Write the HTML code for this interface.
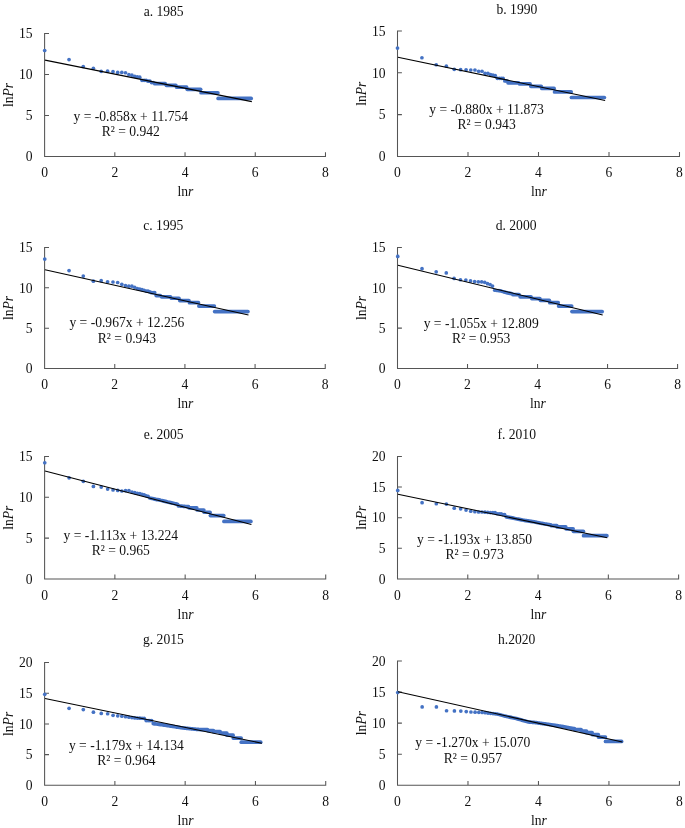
<!DOCTYPE html>
<html><head><meta charset="utf-8"><title>Rank-size plots</title>
<style>
html,body{margin:0;padding:0;background:#fff}
svg{display:block}
svg text{font-family:"Liberation Serif",serif;font-size:13.6px}
</style></head><body>
<svg width="685" height="828" viewBox="0 0 685 828">
<rect width="685" height="828" fill="#fff"/>
<g id="chart-a">
<path d="M49 33.4H44.6V156.55H325.48v-4.4M44.6 115.5h4.4M44.6 74.45h4.4M114.82 156.55v-4.4M185.04 156.55v-4.4M255.26 156.55v-4.4" fill="none" stroke="#555" stroke-width="1.05"/>
<g fill="#4472C4"><circle cx="44.7" cy="50.52" r="1.85"/><circle cx="69.03" cy="59.54" r="1.85"/><circle cx="83.26" cy="66.51" r="1.85"/><circle cx="93.36" cy="68.23" r="1.85"/><circle cx="101.19" cy="71.35" r="1.85"/><circle cx="107.59" cy="71.18" r="1.85"/><circle cx="113" cy="71.68" r="1.85"/><circle cx="117.69" cy="72.41" r="1.85"/><circle cx="121.82" cy="72.41" r="1.85"/><circle cx="125.52" cy="72.74" r="1.85"/><circle cx="128.87" cy="74.71" r="1.85"/><circle cx="131.92" cy="75.2" r="1.85"/><circle cx="134.73" cy="76.43" r="1.85"/><circle cx="137.33" cy="76.76" r="1.85"/><circle cx="139.75" cy="77.17" r="1.85"/><circle cx="142.02" cy="80.29" r="1.85"/><circle cx="144.15" cy="80.29" r="1.85"/><circle cx="146.15" cy="80.29" r="1.85"/><circle cx="148.05" cy="81.19" r="1.85"/><circle cx="149.85" cy="81.19" r="1.85"/><circle cx="151.56" cy="82.58" r="1.85"/><circle cx="153.2" cy="82.58" r="1.85"/></g>
<g stroke="#4472C4" stroke-width="3.7" stroke-linecap="round" stroke-linejoin="round" fill="none"><path d="M154.76 83.65L165.23 83.65"/><path d="M166.35 85.37L175.89 85.37"/><path d="M176.72 87.17L186.61 87.17"/><path d="M187.22 89.31L200.64 89.31"/><path d="M201.05 92.75L217.9 92.75"/><path d="M218.15 98.41L251.2 98.41"/></g>
<line x1="45.02" y1="60.13" x2="251.82" y2="101.62" stroke="#000" stroke-width="1.05"/>
<g fill="#111" style="filter:grayscale(1)"><text x="32.6" y="161" text-anchor="end">0</text><text x="32.6" y="120" text-anchor="end">5</text><text x="32.6" y="79" text-anchor="end">10</text><text x="32.6" y="38" text-anchor="end">15</text><text x="44.6" y="177" text-anchor="middle">0</text><text x="114.82" y="177" text-anchor="middle">2</text><text x="185.04" y="177" text-anchor="middle">4</text><text x="255.26" y="177" text-anchor="middle">6</text><text x="325.48" y="177" text-anchor="middle">8</text><text x="185.44" y="196" text-anchor="middle">ln<tspan font-style="italic">r</tspan></text><text transform="translate(13.1 94.98) rotate(-90)" text-anchor="middle">ln<tspan font-style="italic">Pr</tspan></text><text x="163.65" y="16" text-anchor="middle">a. 1985</text><text x="130.8" y="121" text-anchor="middle">y = -0.858x + 11.754</text><text x="130.8" y="136" text-anchor="middle">R² = 0.942</text></g>
</g>
<g id="chart-b">
<path d="M401.9 31H397.5V156.45H679.5v-4.4M397.5 114.63h4.4M397.5 72.82h4.4M468 156.45v-4.4M538.5 156.45v-4.4M609 156.45v-4.4" fill="none" stroke="#555" stroke-width="1.05"/>
<g fill="#4472C4"><circle cx="397.5" cy="48.04" r="1.85"/><circle cx="421.93" cy="57.73" r="1.85"/><circle cx="436.23" cy="64.75" r="1.85"/><circle cx="446.37" cy="66.17" r="1.85"/><circle cx="454.23" cy="69.34" r="1.85"/><circle cx="460.66" cy="69.68" r="1.85"/><circle cx="466.09" cy="69.84" r="1.85"/><circle cx="470.8" cy="70.01" r="1.85"/><circle cx="474.95" cy="70.01" r="1.85"/><circle cx="478.67" cy="71.26" r="1.85"/><circle cx="482.03" cy="71.26" r="1.85"/><circle cx="485.09" cy="73.35" r="1.85"/><circle cx="487.91" cy="73.35" r="1.85"/><circle cx="490.53" cy="74.6" r="1.85"/><circle cx="492.96" cy="75.11" r="1.85"/><circle cx="495.23" cy="75.61" r="1.85"/><circle cx="497.37" cy="78.36" r="1.85"/><circle cx="499.39" cy="78.36" r="1.85"/><circle cx="501.29" cy="78.36" r="1.85"/><circle cx="503.1" cy="78.36" r="1.85"/><circle cx="504.82" cy="80.95" r="1.85"/><circle cx="506.46" cy="80.95" r="1.85"/></g>
<g stroke="#4472C4" stroke-width="3.7" stroke-linecap="round" stroke-linejoin="round" fill="none"><path d="M508.03 82.79L518.55 82.79"/><path d="M519.67 83.96L530.08 83.96"/><path d="M530.89 86.3L541.23 86.3"/><path d="M541.83 88.39L554.1 88.39"/><path d="M554.52 91.9L571.19 91.9"/><path d="M571.44 97.49L604.39 97.49"/></g>
<line x1="397.92" y1="57.24" x2="605.12" y2="100.5" stroke="#000" stroke-width="1.05"/>
<g fill="#111" style="filter:grayscale(1)"><text x="385.5" y="161" text-anchor="end">0</text><text x="385.5" y="119" text-anchor="end">5</text><text x="385.5" y="78" text-anchor="end">10</text><text x="385.5" y="36" text-anchor="end">15</text><text x="397.5" y="177" text-anchor="middle">0</text><text x="468" y="177" text-anchor="middle">2</text><text x="538.5" y="177" text-anchor="middle">4</text><text x="609" y="177" text-anchor="middle">6</text><text x="679.5" y="177" text-anchor="middle">8</text><text x="538.9" y="196" text-anchor="middle">ln<tspan font-style="italic">r</tspan></text><text transform="translate(365.9 93.72) rotate(-90)" text-anchor="middle">ln<tspan font-style="italic">Pr</tspan></text><text x="516.9" y="14" text-anchor="middle">b. 1990</text><text x="486.6" y="114" text-anchor="middle">y = -0.880x + 11.873</text><text x="486.6" y="129" text-anchor="middle">R² = 0.943</text></g>
</g>
<g id="chart-c">
<path d="M49 247.45H44.6V368.5H325.24v-4.4M44.6 328.15h4.4M44.6 287.8h4.4M114.76 368.5v-4.4M184.92 368.5v-4.4M255.08 368.5v-4.4" fill="none" stroke="#555" stroke-width="1.05"/>
<g fill="#4472C4"><circle cx="44.75" cy="259.05" r="1.85"/><circle cx="69.06" cy="270.61" r="1.85"/><circle cx="83.28" cy="276.03" r="1.85"/><circle cx="93.37" cy="281.13" r="1.85"/><circle cx="101.19" cy="280.72" r="1.85"/><circle cx="107.59" cy="281.85" r="1.85"/><circle cx="112.99" cy="282.02" r="1.85"/><circle cx="117.68" cy="282.5" r="1.85"/><circle cx="121.81" cy="284.28" r="1.85"/><circle cx="125.5" cy="285.49" r="1.85"/><circle cx="128.84" cy="286.22" r="1.85"/><circle cx="131.9" cy="286.22" r="1.85"/><circle cx="134.7" cy="287.27" r="1.85"/><circle cx="137.3" cy="288.48" r="1.85"/><circle cx="139.72" cy="289.21" r="1.85"/><circle cx="141.98" cy="289.7" r="1.85"/><circle cx="144.11" cy="290.26" r="1.85"/><circle cx="146.12" cy="291.07" r="1.85"/><circle cx="148.01" cy="291.07" r="1.85"/><circle cx="149.81" cy="291.96" r="1.85"/><circle cx="151.52" cy="292.69" r="1.85"/><circle cx="153.15" cy="292.69" r="1.85"/><circle cx="154.71" cy="292.69" r="1.85"/></g>
<g stroke="#4472C4" stroke-width="3.7" stroke-linecap="round" stroke-linejoin="round" fill="none"><path d="M156.2 295.6L160.33 295.6"/><path d="M161.61 296.81L170.42 296.81"/><path d="M171.38 298.27L179.02 298.27"/><path d="M179.77 300.53L188.92 300.53"/><path d="M189.49 302.64L198.43 302.64"/><path d="M198.86 306.11L214.36 306.11"/><path d="M214.64 311.53L247.91 311.53"/></g>
<line x1="45.02" y1="269.69" x2="248.48" y2="314.95" stroke="#000" stroke-width="1.05"/>
<g fill="#111" style="filter:grayscale(1)"><text x="32.6" y="373" text-anchor="end">0</text><text x="32.6" y="333" text-anchor="end">5</text><text x="32.6" y="293" text-anchor="end">10</text><text x="32.6" y="252" text-anchor="end">15</text><text x="44.6" y="389" text-anchor="middle">0</text><text x="114.76" y="389" text-anchor="middle">2</text><text x="184.92" y="389" text-anchor="middle">4</text><text x="255.08" y="389" text-anchor="middle">6</text><text x="325.24" y="389" text-anchor="middle">8</text><text x="185.32" y="408" text-anchor="middle">ln<tspan font-style="italic">r</tspan></text><text transform="translate(13.1 307.98) rotate(-90)" text-anchor="middle">ln<tspan font-style="italic">Pr</tspan></text><text x="163.3" y="230" text-anchor="middle">c. 1995</text><text x="126.9" y="327" text-anchor="middle">y = -0.967x + 12.256</text><text x="126.9" y="343" text-anchor="middle">R² = 0.943</text></g>
</g>
<g id="chart-d">
<path d="M401.9 247.4H397.5V368.45H677.58v-4.4M397.5 328.1h4.4M397.5 287.75h4.4M467.52 368.45v-4.4M537.54 368.45v-4.4M607.56 368.45v-4.4" fill="none" stroke="#555" stroke-width="1.05"/>
<g fill="#4472C4"><circle cx="397.75" cy="256.38" r="1.85"/><circle cx="422.01" cy="268.67" r="1.85"/><circle cx="436.2" cy="271.83" r="1.85"/><circle cx="446.27" cy="272.88" r="1.85"/><circle cx="454.08" cy="278.46" r="1.85"/><circle cx="460.46" cy="279.75" r="1.85"/><circle cx="465.86" cy="280.07" r="1.85"/><circle cx="470.53" cy="280.96" r="1.85"/><circle cx="474.65" cy="281.61" r="1.85"/><circle cx="478.34" cy="281.85" r="1.85"/><circle cx="481.68" cy="281.85" r="1.85"/><circle cx="484.72" cy="282.34" r="1.85"/><circle cx="487.52" cy="283.71" r="1.85"/><circle cx="490.12" cy="284.6" r="1.85"/><circle cx="492.53" cy="286.06" r="1.85"/><circle cx="494.79" cy="290.26" r="1.85"/><circle cx="496.91" cy="290.51" r="1.85"/><circle cx="498.91" cy="290.67" r="1.85"/><circle cx="500.81" cy="290.91" r="1.85"/><circle cx="502.6" cy="291.48" r="1.85"/><circle cx="504.31" cy="292.12" r="1.85"/></g>
<g stroke="#4472C4" stroke-width="3.7" stroke-linecap="round" stroke-linejoin="round" fill="none"><path d="M505.94 292.45L507.49 292.85L508.98 293.09L510.41 293.42L511.78 293.74"/><path d="M513.1 294.71L519.05 294.71"/><path d="M520.13 296.81L530.98 296.81"/><path d="M531.75 298.59L539.87 298.59"/><path d="M540.46 300.37L549.33 300.37"/><path d="M549.78 302.64L558.22 302.64"/><path d="M558.58 306.11L571.69 306.11"/><path d="M571.94 311.53L602.17 311.53"/></g>
<line x1="397.92" y1="265.18" x2="602.66" y2="314.97" stroke="#000" stroke-width="1.05"/>
<g fill="#111" style="filter:grayscale(1)"><text x="385.5" y="373" text-anchor="end">0</text><text x="385.5" y="333" text-anchor="end">5</text><text x="385.5" y="293" text-anchor="end">10</text><text x="385.5" y="252" text-anchor="end">15</text><text x="397.5" y="389" text-anchor="middle">0</text><text x="467.52" y="389" text-anchor="middle">2</text><text x="537.54" y="389" text-anchor="middle">4</text><text x="607.56" y="389" text-anchor="middle">6</text><text x="677.58" y="389" text-anchor="middle">8</text><text x="537.94" y="408" text-anchor="middle">ln<tspan font-style="italic">r</tspan></text><text transform="translate(365.9 307.93) rotate(-90)" text-anchor="middle">ln<tspan font-style="italic">Pr</tspan></text><text x="516.1" y="230" text-anchor="middle">d. 2000</text><text x="481.2" y="328" text-anchor="middle">y = -1.055x + 12.809</text><text x="481.2" y="343" text-anchor="middle">R² = 0.953</text></g>
</g>
<g id="chart-e">
<path d="M49 456.5H44.6V578.95H325.72v-4.4M44.6 538.13h4.4M44.6 497.32h4.4M114.88 578.95v-4.4M185.16 578.95v-4.4M255.44 578.95v-4.4" fill="none" stroke="#555" stroke-width="1.05"/>
<g fill="#4472C4"><circle cx="44.75" cy="462.77" r="1.85"/><circle cx="69.08" cy="477.83" r="1.85"/><circle cx="83.31" cy="481.33" r="1.85"/><circle cx="93.41" cy="486.46" r="1.85"/><circle cx="101.24" cy="487.11" r="1.85"/><circle cx="107.64" cy="489.06" r="1.85"/><circle cx="113.05" cy="489.96" r="1.85"/><circle cx="117.74" cy="490.44" r="1.85"/><circle cx="121.87" cy="491.01" r="1.85"/><circle cx="125.57" cy="490.61" r="1.85"/><circle cx="128.92" cy="490.61" r="1.85"/><circle cx="131.97" cy="492.07" r="1.85"/><circle cx="134.78" cy="492.56" r="1.85"/><circle cx="137.38" cy="493.29" r="1.85"/><circle cx="139.8" cy="493.62" r="1.85"/><circle cx="142.07" cy="494.35" r="1.85"/><circle cx="144.2" cy="494.84" r="1.85"/><circle cx="146.2" cy="495.73" r="1.85"/><circle cx="148.1" cy="496.39" r="1.85"/><circle cx="149.9" cy="498.01" r="1.85"/><circle cx="151.61" cy="498.42" r="1.85"/></g>
<g stroke="#4472C4" stroke-width="3.7" stroke-linecap="round" stroke-linejoin="round" fill="none"><path d="M153.25 498.75L154.81 499.15L156.3 499.56L157.73 499.64L159.11 499.8L160.43 500.26L161.71 500.56L162.94 500.85L164.13 501.13L165.28 501.4L166.4 501.67L167.48 501.93L168.53 502.18L169.54 502.42L170.53 502.65L171.49 502.88L172.43 503.11L173.34 503.32L174.23 503.54L175.1 503.74L175.94 503.92L176.77 504.1L177.58 504.28"/><path d="M178.36 505.88L179.14 505.94L179.89 506.01L180.63 506.07L181.35 506.13L182.06 506.19L182.76 506.25L183.44 506.31L184.11 506.37L184.76 506.42L185.41 506.48L186.04 506.53L186.66 506.58L187.27 506.64L187.87 506.69L188.46 506.72"/><path d="M189.04 507.94L196.76 507.94"/><path d="M197.22 509.98L203.84 509.98"/><path d="M204.22 512.26L210.05 512.26"/><path d="M210.37 515.6L223.76 515.6"/><path d="M223.97 521.46L250.86 521.46"/></g>
<line x1="45.02" y1="471.11" x2="251.4" y2="524.47" stroke="#000" stroke-width="1.05"/>
<g fill="#111" style="filter:grayscale(1)"><text x="32.6" y="584" text-anchor="end">0</text><text x="32.6" y="543" text-anchor="end">5</text><text x="32.6" y="502" text-anchor="end">10</text><text x="32.6" y="461" text-anchor="end">15</text><text x="44.6" y="600" text-anchor="middle">0</text><text x="114.88" y="600" text-anchor="middle">2</text><text x="185.16" y="600" text-anchor="middle">4</text><text x="255.44" y="600" text-anchor="middle">6</text><text x="325.72" y="600" text-anchor="middle">8</text><text x="185.56" y="619" text-anchor="middle">ln<tspan font-style="italic">r</tspan></text><text transform="translate(13.1 517.73) rotate(-90)" text-anchor="middle">ln<tspan font-style="italic">Pr</tspan></text><text x="163.65" y="439" text-anchor="middle">e. 2005</text><text x="120.8" y="540" text-anchor="middle">y = -1.113x + 13.224</text><text x="120.8" y="555" text-anchor="middle">R² = 0.965</text></g>
</g>
<g id="chart-f">
<path d="M401.9 456.45H397.5V578.95H678.62v-4.4M397.5 548.33h4.4M397.5 517.7h4.4M397.5 487.07h4.4M467.78 578.95v-4.4M538.06 578.95v-4.4M608.34 578.95v-4.4" fill="none" stroke="#555" stroke-width="1.05"/>
<g fill="#4472C4"><circle cx="397.75" cy="490.44" r="1.85"/><circle cx="422.08" cy="502.71" r="1.85"/><circle cx="436.31" cy="503.75" r="1.85"/><circle cx="446.41" cy="504.12" r="1.85"/><circle cx="454.24" cy="508.15" r="1.85"/><circle cx="460.64" cy="508.82" r="1.85"/><circle cx="466.05" cy="510.04" r="1.85"/><circle cx="470.74" cy="511.26" r="1.85"/><circle cx="474.87" cy="511.63" r="1.85"/><circle cx="478.57" cy="511.99" r="1.85"/><circle cx="481.92" cy="511.99" r="1.85"/><circle cx="484.97" cy="512.18" r="1.85"/><circle cx="487.78" cy="512.36" r="1.85"/><circle cx="490.38" cy="512.54" r="1.85"/><circle cx="492.8" cy="512.54" r="1.85"/><circle cx="495.07" cy="512.54" r="1.85"/><circle cx="497.2" cy="513.76" r="1.85"/><circle cx="499.2" cy="513.76" r="1.85"/><circle cx="501.1" cy="513.76" r="1.85"/><circle cx="502.9" cy="514.62" r="1.85"/><circle cx="504.61" cy="514.62" r="1.85"/></g>
<g stroke="#4472C4" stroke-width="3.7" stroke-linecap="round" stroke-linejoin="round" fill="none"><path d="M506.25 516.83L507.81 517.13L509.3 517.41L510.73 517.68L512.11 517.94L513.43 518.19L514.71 518.45L515.94 518.7L517.13 518.95L518.28 519.18L519.4 519.41L520.48 519.63L521.53 519.84L522.54 520.05L523.53 520.25L524.49 520.41L525.43 520.55L526.34 520.68L527.23 520.82L528.1 520.95L528.94 521.07L529.77 521.2L530.58 521.32L531.36 521.44L532.14 521.55L532.89 521.67L533.63 521.78L534.35 521.91L535.06 522.05L535.76 522.18L536.44 522.32L537.11 522.45L537.76 522.58L538.41 522.71L539.04 522.83L539.66 522.96L540.27 523.08L540.87 523.2L541.46 523.31L542.04 523.43L542.61 523.54L543.17 523.65L543.73 523.76L544.27 523.86L544.81 523.95L545.33 524.03L545.85 524.12L546.37 524.2L546.87 524.28L547.37 524.36L547.86 524.44L548.35 524.51L548.82 524.59L549.29 524.67L549.76 524.74L550.22 524.81L550.67 524.88L551.12 525.67L556.84 525.67"/><path d="M557.22 526.89L565.79 526.89"/><path d="M566.08 528.78L573.15 528.78"/><path d="M573.39 531.29L583.37 531.29"/><path d="M583.54 535.68L606.89 535.68"/></g>
<line x1="397.92" y1="494.21" x2="607.29" y2="537.74" stroke="#000" stroke-width="1.05"/>
<g fill="#111" style="filter:grayscale(1)"><text x="385.5" y="584" text-anchor="end">0</text><text x="385.5" y="553" text-anchor="end">5</text><text x="385.5" y="522" text-anchor="end">10</text><text x="385.5" y="492" text-anchor="end">15</text><text x="385.5" y="461" text-anchor="end">20</text><text x="397.5" y="600" text-anchor="middle">0</text><text x="467.78" y="600" text-anchor="middle">2</text><text x="538.06" y="600" text-anchor="middle">4</text><text x="608.34" y="600" text-anchor="middle">6</text><text x="678.62" y="600" text-anchor="middle">8</text><text x="538.46" y="619" text-anchor="middle">ln<tspan font-style="italic">r</tspan></text><text transform="translate(365.9 517.7) rotate(-90)" text-anchor="middle">ln<tspan font-style="italic">Pr</tspan></text><text x="516.7" y="439" text-anchor="middle">f. 2010</text><text x="474.6" y="544" text-anchor="middle">y = -1.193x + 13.850</text><text x="474.6" y="559" text-anchor="middle">R² = 0.973</text></g>
</g>
<g id="chart-g">
<path d="M49 662.5H44.6V785.3H325.72v-4.4M44.6 754.6h4.4M44.6 723.9h4.4M44.6 693.2h4.4M114.88 785.3v-4.4M185.16 785.3v-4.4M255.44 785.3v-4.4" fill="none" stroke="#555" stroke-width="1.05"/>
<g fill="#4472C4"><circle cx="44.75" cy="694.29" r="1.85"/><circle cx="69.08" cy="708.34" r="1.85"/><circle cx="83.31" cy="709.57" r="1.85"/><circle cx="93.41" cy="712.15" r="1.85"/><circle cx="101.24" cy="713.38" r="1.85"/><circle cx="107.64" cy="713.74" r="1.85"/><circle cx="113.05" cy="715.34" r="1.85"/><circle cx="117.74" cy="715.83" r="1.85"/><circle cx="121.87" cy="716.2" r="1.85"/><circle cx="125.57" cy="716.75" r="1.85"/><circle cx="128.92" cy="717.24" r="1.85"/><circle cx="131.97" cy="717.61" r="1.85"/><circle cx="134.78" cy="717.92" r="1.85"/><circle cx="137.38" cy="718.1" r="1.85"/><circle cx="139.8" cy="718.16" r="1.85"/><circle cx="142.07" cy="718.23" r="1.85"/><circle cx="144.2" cy="718.29" r="1.85"/><circle cx="146.2" cy="720.56" r="1.85"/><circle cx="148.1" cy="720.56" r="1.85"/><circle cx="149.9" cy="720.56" r="1.85"/><circle cx="151.61" cy="720.56" r="1.85"/></g>
<g stroke="#4472C4" stroke-width="3.7" stroke-linecap="round" stroke-linejoin="round" fill="none"><path d="M153.25 723.59L154.81 723.8L156.3 724L157.73 724.2L159.11 724.39L160.43 724.57L161.71 724.74L162.94 724.91L164.13 725.09L165.28 725.27L166.4 725.44L167.48 725.61L168.53 725.77L169.54 725.93L170.53 726.08L171.49 726.23L172.43 726.37L173.34 726.51L174.23 726.65L175.1 726.79L175.94 726.92L176.77 727.05L177.58 727.17L178.36 727.3L179.14 727.42L179.89 727.54L180.63 727.66L181.35 727.75L182.06 727.82L182.76 727.9L183.44 727.97L184.11 728.04L184.76 728.11L185.41 728.17L186.04 728.24L186.66 728.31L187.27 728.37L187.87 728.43L188.46 728.49L189.04 728.55L189.61 728.61L190.17 728.67L190.73 728.73L191.27 728.79L191.81 728.84L192.33 728.9L192.85 728.95L193.37 729.01L193.87 729.06L194.37 729.11L194.86 729.16L195.35 729.21L195.82 729.26L196.29 729.31L196.76 729.34L197.22 729.37L197.67 729.4L198.12 729.43L198.56 729.46L199 729.49L199.43 729.52L199.85 729.55L200.27 729.55L207.43 729.55"/><path d="M207.77 730.59L213.37 730.59"/><path d="M213.66 731.64L220.15 731.64"/><path d="M220.39 733.17L226.83 733.17"/><path d="M227.02 735.2L233.1 735.2"/><path d="M233.26 738.08L241.12 738.08"/><path d="M241.25 742.13L260.71 742.13"/></g>
<line x1="45.02" y1="698.6" x2="261.94" y2="743.29" stroke="#000" stroke-width="1.05"/>
<g fill="#111" style="filter:grayscale(1)"><text x="32.6" y="790" text-anchor="end">0</text><text x="32.6" y="759" text-anchor="end">5</text><text x="32.6" y="729" text-anchor="end">10</text><text x="32.6" y="698" text-anchor="end">15</text><text x="32.6" y="667" text-anchor="end">20</text><text x="44.6" y="806" text-anchor="middle">0</text><text x="114.88" y="806" text-anchor="middle">2</text><text x="185.16" y="806" text-anchor="middle">4</text><text x="255.44" y="806" text-anchor="middle">6</text><text x="325.72" y="806" text-anchor="middle">8</text><text x="185.56" y="825" text-anchor="middle">ln<tspan font-style="italic">r</tspan></text><text transform="translate(13.1 723.9) rotate(-90)" text-anchor="middle">ln<tspan font-style="italic">Pr</tspan></text><text x="163.4" y="644" text-anchor="middle">g. 2015</text><text x="126.4" y="750" text-anchor="middle">y = -1.179x + 14.134</text><text x="126.4" y="765" text-anchor="middle">R² = 0.964</text></g>
</g>
<g id="chart-h">
<path d="M401.9 660.95H397.5V785.3H679.42v-4.4M397.5 754.21h4.4M397.5 723.12h4.4M397.5 692.04h4.4M467.98 785.3v-4.4M538.46 785.3v-4.4M608.94 785.3v-4.4" fill="none" stroke="#555" stroke-width="1.05"/>
<g fill="#4472C4"><circle cx="397.75" cy="692.5" r="1.85"/><circle cx="422.15" cy="706.88" r="1.85"/><circle cx="436.42" cy="706.88" r="1.85"/><circle cx="446.55" cy="710.74" r="1.85"/><circle cx="454.4" cy="710.92" r="1.85"/><circle cx="460.82" cy="711.11" r="1.85"/><circle cx="466.25" cy="711.61" r="1.85"/><circle cx="470.95" cy="711.98" r="1.85"/><circle cx="475.09" cy="712.17" r="1.85"/><circle cx="478.8" cy="712.35" r="1.85"/><circle cx="482.16" cy="712.48" r="1.85"/><circle cx="485.22" cy="712.67" r="1.85"/><circle cx="488.04" cy="713.1" r="1.85"/><circle cx="490.64" cy="713.29" r="1.85"/><circle cx="493.07" cy="713.54" r="1.85"/><circle cx="495.35" cy="713.79" r="1.85"/><circle cx="497.48" cy="714.03" r="1.85"/><circle cx="499.49" cy="714.55" r="1.85"/><circle cx="501.39" cy="715.07" r="1.85"/><circle cx="503.2" cy="715.57" r="1.85"/><circle cx="504.92" cy="716.04" r="1.85"/></g>
<g stroke="#4472C4" stroke-width="3.7" stroke-linecap="round" stroke-linejoin="round" fill="none"><path d="M506.55 716.46L508.12 716.79L509.62 717.11L511.05 717.42L512.43 717.71L513.76 718L515.04 718.27L516.28 718.54L517.47 718.88L518.63 719.21L519.74 719.53L520.83 719.84L521.88 720.14L522.9 720.43L523.89 720.72L524.85 720.99L525.79 721.25L526.71 721.51L527.6 721.76L528.47 722L529.32 722.1L530.14 722.15L530.95 722.2L531.74 722.25L532.52 722.29L533.28 722.34L534.02 722.38L534.74 722.48L535.45 722.58L536.15 722.68L536.83 722.78L537.5 722.87L538.16 722.96L538.81 723.05L539.44 723.14L540.07 723.23L540.68 723.32L541.28 723.4L541.87 723.48L542.45 723.57L543.03 723.65L543.59 723.72L544.14 723.8L544.69 723.88L545.23 723.95L545.76 724.03L546.28 724.1L546.79 724.17L547.3 724.25L547.8 724.32L548.29 724.38L548.77 724.45L549.25 724.52L549.73 724.59L550.19 724.65L550.65 724.72L551.11 724.78L551.55 724.84L552 724.9L552.43 724.97L552.87 725.03L553.29 725.09L553.71 725.15L554.13 725.2L554.54 725.26L554.95 725.33L555.35 725.39L555.75 725.45L556.14 725.51L556.53 725.57L556.92 725.63L557.3 725.69L557.67 725.75L558.05 725.8L558.42 725.86L558.78 725.92L559.14 725.97L559.5 726.03L559.85 726.08L560.2 726.13L560.55 726.19L560.89 726.24L561.23 726.29L561.57 726.34L561.9 726.4L562.23 726.45L562.56 726.5L562.89 726.56L563.21 726.63L563.53 726.69L563.84 726.75L564.15 726.82L564.46 726.88L564.77 726.94L565.08 727L565.38 727.06L565.68 727.12L565.98 727.18L566.27 727.24L566.56 727.3L566.85 727.35L567.14 727.41L567.42 727.47L567.71 727.52L567.99 727.58L568.27 727.63L568.54 727.68L568.82 727.73L569.09 727.77L569.36 727.82L569.62 727.86L569.89 727.91L570.15 727.96L570.42 728L570.68 728.04L570.93 728.09L571.19 728.13L571.44 728.18L571.7 728.22L571.95 728.26L572.2 728.31L572.44 728.35L572.69 728.39L572.93 728.43L573.17 728.47L573.41 728.52L573.65 728.56L573.89 728.6L574.12 728.64L574.36 728.66"/><path d="M574.59 729.6L581.12 729.6"/><path d="M581.32 731.09L586.47 731.09"/><path d="M586.63 732.65L592.11 732.65"/><path d="M592.25 734.58L598.29 734.58"/><path d="M598.41 737.07L605.43 737.07"/><path d="M605.52 741.42L621.61 741.42"/></g>
<line x1="397.92" y1="691.7" x2="622.33" y2="741.98" stroke="#000" stroke-width="1.05"/>
<g fill="#111" style="filter:grayscale(1)"><text x="385.5" y="790" text-anchor="end">0</text><text x="385.5" y="759" text-anchor="end">5</text><text x="385.5" y="728" text-anchor="end">10</text><text x="385.5" y="697" text-anchor="end">15</text><text x="385.5" y="666" text-anchor="end">20</text><text x="397.5" y="806" text-anchor="middle">0</text><text x="467.98" y="806" text-anchor="middle">2</text><text x="538.46" y="806" text-anchor="middle">4</text><text x="608.94" y="806" text-anchor="middle">6</text><text x="679.42" y="806" text-anchor="middle">8</text><text x="538.86" y="825" text-anchor="middle">ln<tspan font-style="italic">r</tspan></text><text transform="translate(365.9 723.12) rotate(-90)" text-anchor="middle">ln<tspan font-style="italic">Pr</tspan></text><text x="516.7" y="644" text-anchor="middle">h.2020</text><text x="472.85" y="747" text-anchor="middle">y = -1.270x + 15.070</text><text x="472.85" y="763" text-anchor="middle">R² = 0.957</text></g>
</g>
</svg>
</body></html>
